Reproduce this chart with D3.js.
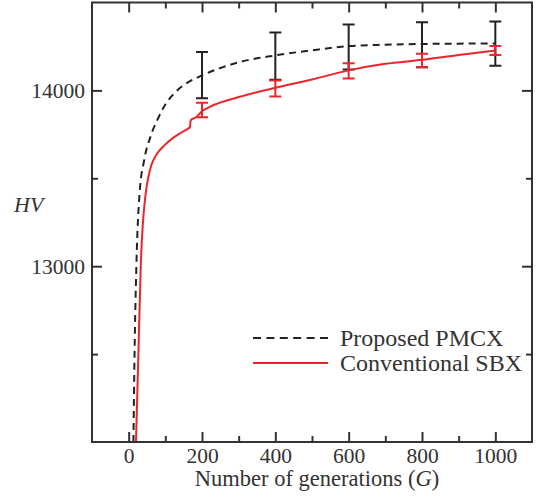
<!DOCTYPE html>
<html>
<head>
<meta charset="utf-8">
<script src="https://cdn.jsdelivr.net/npm/d3@7"></script>
<style>
  html, body { margin: 0; padding: 0; background: #fff; }
  svg { display: block; }
  text { font-family: "Liberation Serif", "Times New Roman", serif; fill: #333; }
</style>
</head>
<body>
<svg id="chart" width="543" height="499"></svg>
<script>
// Hypervolume (HV) vs. number of generations for two crossover operators.
const pmcxG  = [13, 16, 21, 30, 42, 60, 80, 100, 125, 150, 200, 300, 400, 500, 600, 700, 800, 900, 1000];
const pmcxHV = [12000, 12500, 13000, 13420, 13600, 13740, 13840, 13920, 13985, 14030, 14085, 14160, 14199, 14228, 14252, 14260, 14264, 14266, 14267];

const sbxG  = [20, 26.5, 33, 46, 53, 62, 75, 98, 125, 145, 162, 167, 169, 185, 198, 221, 300, 400, 500, 600, 700, 800, 900, 1000];
const sbxHV = [12000, 12500, 13000, 13406, 13500, 13576, 13632, 13689, 13736, 13762, 13783, 13790, 13830, 13849, 13877, 13906, 13962, 14015, 14062, 14114, 14151, 14174, 14202, 14227];

// Error bars sampled every 200 generations
const barG = [200, 400, 600, 800, 1000];
const pmcxUpper = [14218, 14330, 14375, 14388, 14392];
const pmcxLower = [13955, 14061, 14119, 14132, 14140];
const sbxUpper  = [13930, 14057, 14155, 14208, 14252];
const sbxLower  = [13847, 13966, 14068, 14132, 14202];

const xMajor = [0, 200, 400, 600, 800, 1000];
const xMinor = [100, 300, 500, 700, 900];
const yMajor = [13000, 14000];
const yMinor = [12500, 13500];

const seriesNames = ["Proposed PMCX", "Conventional SBX"];

const svg = d3.select("#chart");
const mLeft = 92, mRight = 532, mTop = 2.5, mBottom = 442;
const x = d3.scaleLinear().domain([-100, 1100]).range([mLeft, mRight]);
const y = d3.scaleLinear().domain([12000, 14500]).range([mBottom, mTop]);

const red = "#e8262c", black = "#222";

const plot = svg.append("g");
plot.append("clipPath").attr("id", "clip")
  .append("rect").attr("x", mLeft).attr("y", mTop).attr("width", mRight - mLeft).attr("height", mBottom - mTop);

const line = d3.line().x(d => x(d[0])).y(d => y(d[1])).curve(d3.curveMonotoneX);

const pmcx = d3.zip(pmcxG, pmcxHV);
const sbx = d3.zip(sbxG, sbxHV);

const curves = plot.append("g").attr("clip-path", "url(#clip)");

// Vertical error bars with caps
function bars(upper, lower, color) {
  const g = curves.append("g").attr("stroke", color).attr("stroke-width", 2).attr("fill", "none");
  barG.forEach((gv, i) => {
    const cx = x(gv);
    g.append("line").attr("x1", cx).attr("x2", cx).attr("y1", y(upper[i])).attr("y2", y(lower[i]));
    [upper[i], lower[i]].forEach(v => {
      g.append("line").attr("x1", cx - 6).attr("x2", cx + 6).attr("y1", y(v)).attr("y2", y(v));
    });
  });
}

bars(pmcxUpper, pmcxLower, black);
curves.append("path").datum(pmcx).attr("d", line)
  .attr("fill", "none").attr("stroke", black).attr("stroke-width", 2).attr("stroke-dasharray", "7,5");

bars(sbxUpper, sbxLower, red);
curves.append("path").datum(sbx).attr("d", line)
  .attr("fill", "none").attr("stroke", red).attr("stroke-width", 2);

// Frame and ticks (inward on all four sides)
const axisG = svg.append("g").attr("stroke", "#333").attr("stroke-width", 2);
axisG.append("rect").attr("x", mLeft).attr("y", mTop).attr("width", mRight - mLeft).attr("height", mBottom - mTop).attr("fill", "none");

const xAxisB = d3.axisBottom(x).tickValues(xMajor).tickSize(-10).tickFormat(d3.format("d")).tickPadding(6);
const xAxisT = d3.axisTop(x).tickValues(xMajor).tickSize(-10).tickFormat("");
const xMinB = d3.axisBottom(x).tickValues(xMinor).tickSize(-6).tickFormat("");
const xMinT = d3.axisTop(x).tickValues(xMinor).tickSize(-6).tickFormat("");
const yAxisL = d3.axisLeft(y).tickValues(yMajor).tickSize(-10).tickFormat(d3.format("d")).tickPadding(7);
const yAxisR = d3.axisRight(y).tickValues(yMajor).tickSize(-10).tickFormat("");
const yMinL = d3.axisLeft(y).tickValues(yMinor).tickSize(-6).tickFormat("");
const yMinR = d3.axisRight(y).tickValues(yMinor).tickSize(-6).tickFormat("");

function styleAxis(sel) {
  sel.select(".domain").remove();
  sel.selectAll(".tick line").attr("stroke", "#333").attr("stroke-width", 2);
  sel.selectAll(".tick text").attr("fill", "#333").attr("font-family", "Liberation Serif, serif").attr("font-size", 21.5);
}

svg.append("g").attr("transform", `translate(0,${mBottom})`).call(xAxisB).call(styleAxis);
svg.append("g").attr("transform", `translate(0,${mBottom})`).call(xMinB).call(styleAxis);
svg.append("g").attr("transform", `translate(0,${mTop})`).call(xAxisT).call(styleAxis);
svg.append("g").attr("transform", `translate(0,${mTop})`).call(xMinT).call(styleAxis);
svg.append("g").attr("transform", `translate(${mLeft},0)`).call(yAxisL).call(styleAxis);
svg.append("g").attr("transform", `translate(${mLeft},0)`).call(yMinL).call(styleAxis);
svg.append("g").attr("transform", `translate(${mRight},0)`).call(yAxisR).call(styleAxis);
svg.append("g").attr("transform", `translate(${mRight},0)`).call(yMinR).call(styleAxis);

// Axis titles
const xt = svg.append("text").attr("x", 317).attr("y", 486).attr("text-anchor", "middle").attr("font-size", 22.5);
xt.append("tspan").text("Number of generations (");
xt.append("tspan").attr("font-style", "italic").text("G");
xt.append("tspan").text(")");

svg.append("text").attr("x", 14).attr("y", 212).attr("font-size", 22).attr("font-style", "italic").text("HV");

// Legend
const leg = svg.append("g");
leg.append("line").attr("x1", 253).attr("x2", 328).attr("y1", 338).attr("y2", 338)
  .attr("stroke", black).attr("stroke-width", 2).attr("stroke-dasharray", "8,5.4");
leg.append("line").attr("x1", 253).attr("x2", 328).attr("y1", 363).attr("y2", 363)
  .attr("stroke", red).attr("stroke-width", 2);
leg.append("text").attr("x", 340).attr("y", 346).attr("font-size", 24).text(seriesNames[0]);
leg.append("text").attr("x", 340).attr("y", 371).attr("font-size", 24).text(seriesNames[1]);
</script>
</body>
</html>
